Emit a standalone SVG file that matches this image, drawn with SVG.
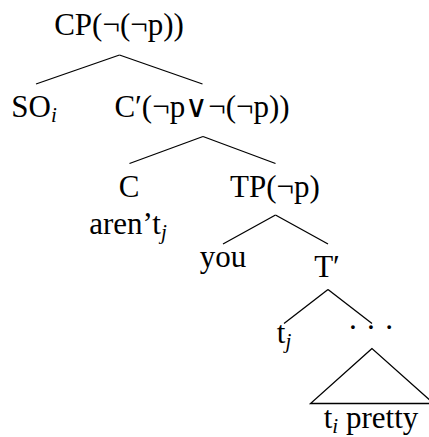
<svg xmlns="http://www.w3.org/2000/svg" width="429" height="437" viewBox="0 0 429 437">
<style>
text{font-size:31px;fill:#000;text-anchor:middle}
.sub{font-style:italic;font-size:21px}
.e line,.e polygon{stroke:#000;stroke-width:1.3;fill:none}
</style>
<rect width="429" height="437" fill="#fff"/>
<g class="e" id="connectors">
<line x1="119.5" y1="55" x2="36" y2="84"/>
<line x1="119.5" y1="55" x2="202.5" y2="84"/>
<line x1="203" y1="136.5" x2="129.5" y2="163.5"/>
<line x1="203" y1="136.5" x2="275.5" y2="163.5"/>
<line x1="275.5" y1="215" x2="223" y2="244"/>
<line x1="275.5" y1="215" x2="328" y2="244"/>
<line x1="328" y1="289.5" x2="284" y2="323.5"/>
<line x1="328" y1="289.5" x2="372" y2="323.5"/>
<polygon points="372,348.5 310.5,403.5 433.5,403.5"/>
</g>
<g font-family="Liberation Serif">
<g id="CP"><text x="119" y="35">CP(¬(¬p))</text></g>
<g id="SO"><text x="34" y="117">SO<tspan class="sub" dy="5">i</tspan></text></g>
<g id="Cbar"><text x="202" y="117">C′(¬p∨¬(¬p))</text></g>
<g id="C"><text x="129" y="197">C</text><text x="128" y="234">aren’t<tspan class="sub" dy="5">j</tspan></text></g>
<g id="TP"><text x="275" y="197">TP(¬p)</text></g>
<g id="you"><text x="223" y="267">you</text></g>
<g id="Tbar"><text x="327" y="277">T′</text></g>
<g id="tj"><text x="284" y="343">t<tspan class="sub" dy="5">j</tspan></text></g>
<g id="dots"><text x="371" y="338">· · ·</text></g>
<g id="pretty"><text x="371" y="428">t<tspan class="sub" dy="5">i</tspan><tspan dy="-5"> pretty</tspan></text></g>
</g>
</svg>
